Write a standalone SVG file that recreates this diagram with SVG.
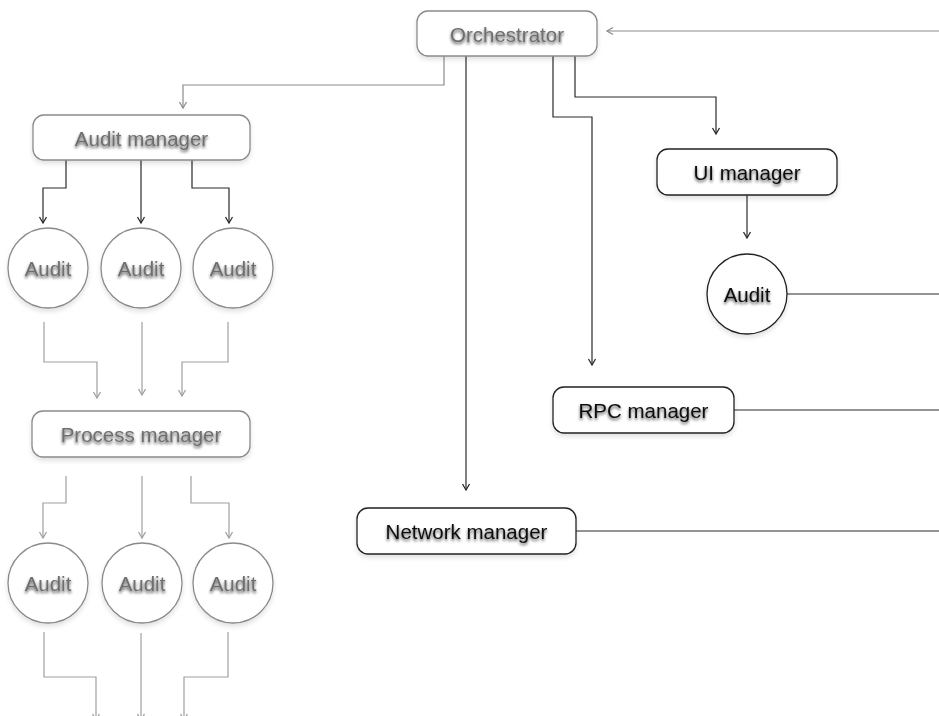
<svg xmlns="http://www.w3.org/2000/svg" width="939" height="716" viewBox="0 0 939 716">
<defs>
<style>
.lbl{font-family:"Liberation Sans",Arial,sans-serif;font-size:20.5px;text-anchor:middle;filter:url(#tshadow)}
.dk{fill:#111}
.gy{fill:#6e6e6e}
.box{fill:#fff;stroke-width:1.3;filter:url(#bshadow)}
.bdk{stroke:#222}
.bgy{stroke:#8a8a8a}
.c{fill:none;stroke-width:1.2}
.cdk{stroke:#2a2a2a;marker-end:url(#adk)}
.cgy{stroke:#8c8c8c;marker-end:url(#agy)}
.clt{stroke:#a0a0a0;marker-end:url(#alt)}
.nom{marker-end:none}
</style>
<filter id="tshadow" x="-20%" y="-40%" width="140%" height="200%">
<feGaussianBlur in="SourceAlpha" stdDeviation="1.7"/>
<feOffset dx="0" dy="2" result="b"/>
<feComponentTransfer><feFuncA type="linear" slope="0.7"/></feComponentTransfer>
<feMerge><feMergeNode/><feMergeNode in="SourceGraphic"/></feMerge>
</filter>
<filter id="bshadow" x="-10%" y="-20%" width="120%" height="160%">
<feGaussianBlur in="SourceAlpha" stdDeviation="2.5"/>
<feOffset dx="0" dy="3" result="b"/>
<feComponentTransfer><feFuncA type="linear" slope="0.12"/></feComponentTransfer>
<feMerge><feMergeNode/><feMergeNode in="SourceGraphic"/></feMerge>
</filter>
<marker id="adk" markerUnits="userSpaceOnUse" markerWidth="12" markerHeight="12" viewBox="-8 -6 10 12" refX="0" refY="0" orient="auto"><path d="M-6,-3.5 L0,0 L-6,3.5" fill="none" stroke="#2a2a2a" stroke-width="1.3"/></marker>
<marker id="agy" markerUnits="userSpaceOnUse" markerWidth="12" markerHeight="12" viewBox="-8 -6 10 12" refX="0" refY="0" orient="auto"><path d="M-6,-3.5 L0,0 L-6,3.5" fill="none" stroke="#8c8c8c" stroke-width="1.3"/></marker>
<marker id="alt" markerUnits="userSpaceOnUse" markerWidth="12" markerHeight="12" viewBox="-8 -6 10 12" refX="0" refY="0" orient="auto"><path d="M-6,-3.5 L0,0 L-6,3.5" fill="none" stroke="#a0a0a0" stroke-width="1.3"/></marker>
</defs>
<rect width="939" height="716" fill="#fff"/>
<g id="connectors">
<path class="c cgy" d="M939,31 H607"/>
<path class="c cgy" d="M444,56 V85 H183 V108"/>
<path class="c cdk" d="M466,56 V490"/>
<path class="c cdk" d="M553,56 V117 H592 V365"/>
<path class="c cdk" d="M575,56 V97 H716 V134"/>
<path class="c cdk" d="M747,195 V238"/>
<path class="c cdk nom" d="M787,294 H939"/>
<path class="c cdk nom" d="M734,410 H939"/>
<path class="c cdk nom" d="M576,531 H939"/>
<path class="c cdk" d="M66,160 V188 H43 V223"/>
<path class="c cdk" d="M141,160 V223"/>
<path class="c cdk" d="M192,160 V188 H229 V223"/>
<path class="c clt" d="M44,322 V362 H97 V398"/>
<path class="c clt" d="M142,322 V395"/>
<path class="c clt" d="M228,322 V362 H182 V396"/>
<path class="c clt" d="M66,476 V503 H43 V538"/>
<path class="c clt" d="M142,476 V538"/>
<path class="c clt" d="M191,476 V503 H229 V538"/>
<path class="c clt" d="M44,632 V677 H96 V720"/>
<path class="c clt" d="M141,633 V720"/>
<path class="c clt" d="M228,632 V677 H184 V720"/>
</g>
<g id="orchestrator"><rect class="box bgy" x="417" y="11" width="180" height="45" rx="11"/><text class="lbl gy" x="507" y="41.5">Orchestrator</text></g>
<g id="audit-manager"><rect class="box bgy" x="33" y="115" width="217" height="45" rx="11"/><text class="lbl gy" x="141.5" y="145.5">Audit manager</text></g>
<g id="audit-1"><circle class="box bgy" cx="48" cy="268" r="40"/><text class="lbl gy" x="48" y="276">Audit</text></g>
<g id="audit-2"><circle class="box bgy" cx="141" cy="268" r="40"/><text class="lbl gy" x="141" y="276">Audit</text></g>
<g id="audit-3"><circle class="box bgy" cx="233" cy="268" r="40"/><text class="lbl gy" x="233" y="276">Audit</text></g>
<g id="process-manager"><rect class="box bgy" x="32" y="411" width="218" height="46" rx="11"/><text class="lbl gy" x="141" y="442">Process manager</text></g>
<g id="audit-4"><circle class="box bgy" cx="48" cy="583" r="40"/><text class="lbl gy" x="48" y="591">Audit</text></g>
<g id="audit-5"><circle class="box bgy" cx="142" cy="583" r="40"/><text class="lbl gy" x="142" y="591">Audit</text></g>
<g id="audit-6"><circle class="box bgy" cx="233" cy="583" r="40"/><text class="lbl gy" x="233" y="591">Audit</text></g>
<g id="ui-manager"><rect class="box bdk" x="657" y="149" width="180" height="46" rx="11"/><text class="lbl dk" x="747" y="180">UI manager</text></g>
<g id="ui-audit"><circle class="box bdk" cx="747" cy="294" r="40"/><text class="lbl dk" x="747" y="302">Audit</text></g>
<g id="rpc-manager"><rect class="box bdk" x="553" y="387" width="181" height="46" rx="11"/><text class="lbl dk" x="643.5" y="418">RPC manager</text></g>
<g id="network-manager"><rect class="box bdk" x="357" y="508" width="219" height="46" rx="11"/><text class="lbl dk" x="466.5" y="539">Network manager</text></g>
</svg>
